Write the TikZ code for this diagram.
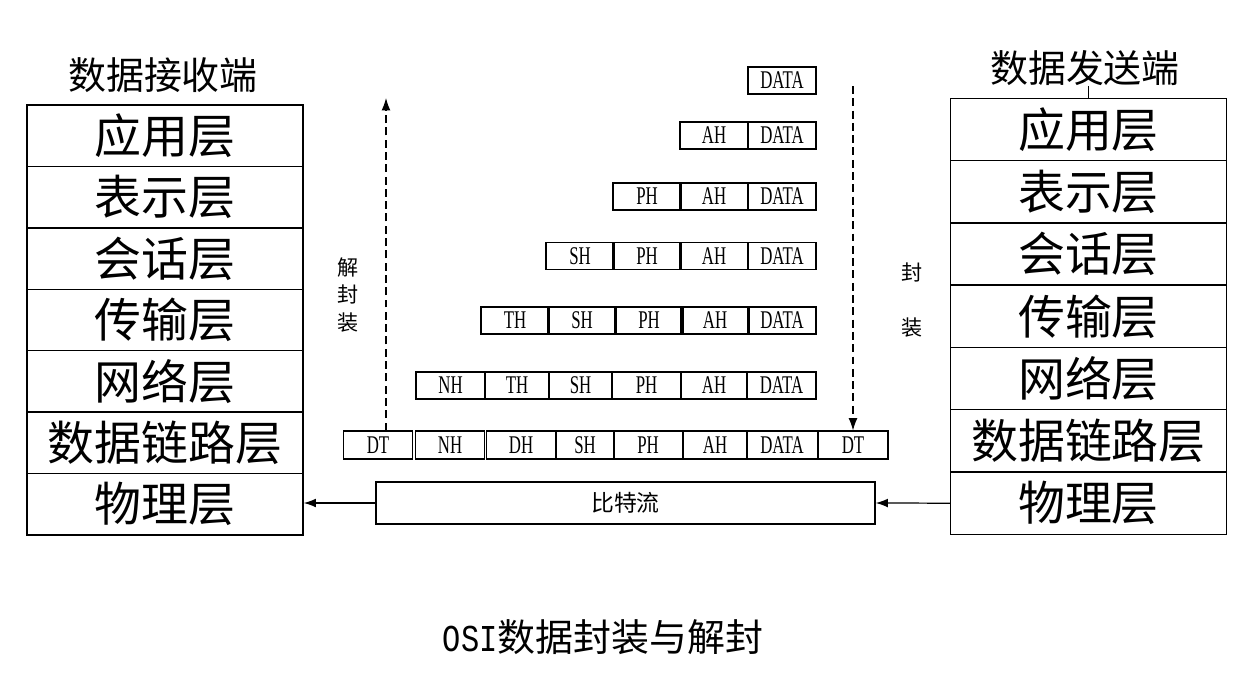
\documentclass[tikz,border=0pt]{standalone}
\usepackage{fontspec}
\setmainfont{Liberation Serif}
\newfontfamily\cjk{Noto Sans CJK SC}
\newfontfamily\hdrfont[FakeStretch=0.66]{Liberation Serif}
\newfontfamily\osifont[FakeStretch=0.8]{Liberation Mono}
\usetikzlibrary{arrows.meta}

\begin{document}
\begin{tikzpicture}[x=0.02cm, y=-0.02cm,
      every node/.style={inner sep=0pt},
      layerbox/.style={draw, line width=0.8pt, minimum width=5.52cm,
          font=\cjk\fontsize{26.7}{30}\selectfont},
      hdrbox/.style={draw, line width=0.6pt, minimum width=1.36cm,
          minimum height=0.54cm, font=\hdrfont\fontsize{14.5}{16}\selectfont},
      titletext/.style={font=\cjk\fontsize{21.6}{24}\selectfont},
      sidetext/.style={font=\cjk\fontsize{12}{15.4}\selectfont, align=center},
      >={Latex[length=7pt,width=5pt]}]
    \path[use as bounding box, fill=white] (0,0) rectangle (1237,687);

    % receiving and sending stacks
    \node[titletext] (recvtitle) at (163,75) {数据接收端};
    \node[titletext] (sendtitle) at (1085,68) {数据发送端};
    \foreach \name [count=\i] in {应用层,表示层,会话层,传输层,网络层,数据链路层,物理层}
      \node[layerbox, minimum height=1.229cm] (recv\i) at (165,{74.3+61.43*\i}) {\name};
    \foreach \name [count=\i] in {应用层,表示层,会话层,传输层,网络层,数据链路层,物理层}
      \node[layerbox, minimum height=1.246cm] (send\i) at (1088.5,{67.15+62.29*\i}) {\name};
    \draw (sendtitle.south -| send1.north) -- (send1.north);

    % encapsulated units
    \foreach \lbl/\cx [count=\c] in {DATA/782}
      \node[hdrbox] (p1-\c) at (\cx,80.5) {\lbl};
    \foreach \lbl/\cx [count=\c] in {AH/714, DATA/782}
      \node[hdrbox] (p2-\c) at (\cx,135.5) {\lbl};
    \foreach \lbl/\cx [count=\c] in {PH/647, AH/714, DATA/782}
      \node[hdrbox] (p3-\c) at (\cx,196.5) {\lbl};
    \foreach \lbl/\cx [count=\c] in {SH/580, PH/647, AH/714, DATA/782}
      \node[hdrbox] (p4-\c) at (\cx,256) {\lbl};
    \foreach \lbl/\cx [count=\c] in {TH/515, SH/582, PH/649, AH/715, DATA/782}
      \node[hdrbox] (p5-\c) at (\cx,320.5) {\lbl};
    \foreach \lbl/\cx/\w [count=\c] in {NH/450.5/1.38, TH/517/1.28, SH/580.5/1.26,
        PH/646.5/1.38, AH/714/1.32, DATA/781.5/1.38}
      \node[hdrbox, minimum width=\w cm] (p6-\c) at (\cx,385.5) {\lbl};
    \foreach \lbl/\cx/\w [count=\c] in {DT/378/1.38, NH/450/1.38, DH/521/1.38,
        SH/585/1.16, PH/648/1.38, AH/715/1.28, DATA/782/1.42, DT/853/1.4}
      \node[hdrbox, minimum width=\w cm, minimum height=0.56cm] (p7-\c) at (\cx,445) {\lbl};

    % bit stream
    \node[draw, line width=0.8pt, minimum width=9.98cm, minimum height=0.84cm,
          font=\cjk\fontsize{13}{15}\selectfont] (bits) at (625.5,503) {比特流};
    \draw[->, line width=0.7pt] (send7.west) -- (bits.east);
    \draw[->, line width=0.7pt] (bits.west) -- (recv7.east |- bits.west);

    % direction of travel
    \coordinate (uptop) at (386,98);
    \coordinate (downtop) at (853,86);
    \draw[->, line width=0.6pt, dash pattern=on 4.5pt off 2.5pt]
          (uptop |- p7-1.north) -- (uptop);
    \draw[->, line width=0.6pt, dash pattern=on 4.5pt off 2.5pt]
          (downtop) -- (p7-8.north);
    \node[sidetext] (decaplbl) at (348,295) {解\\封\\装};
    \node[sidetext, font=\cjk\fontsize{12}{31.3}\selectfont] (encaplbl) at (912,300) {封\\装};

    \node (caption) at (603,637) {\osifont\fontsize{21.6}{24}\selectfont OSI\cjk 数据封装与解封};
  \end{tikzpicture}
\end{document}
